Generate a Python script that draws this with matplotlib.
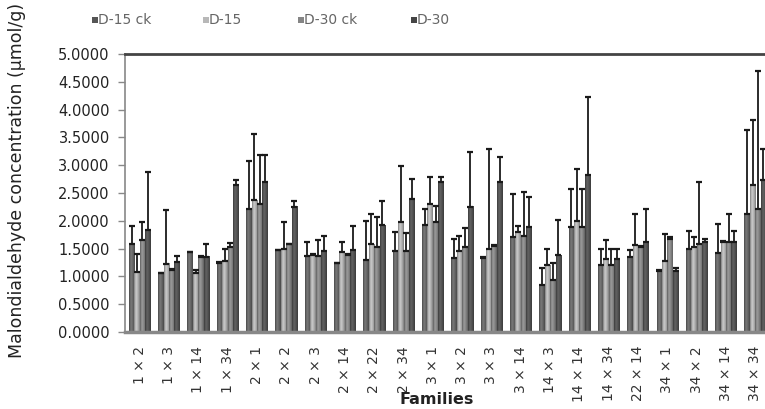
import matplotlib
matplotlib.use("Agg")
import matplotlib.pyplot as plt
import numpy as np
from matplotlib.patches import Rectangle
from matplotlib.colors import LinearSegmentedColormap, to_rgb

families = ['1×2', '1×3', '1×14', '1×34', '2×1', '2×2', '2×3', '2×14', '2×22', '2×34',
            '3×1', '3×2', '3×3', '3×14', '14×3', '14×14', '14×34', '22×14', '34×1',
            '34×2', '34×14', '34×34']
series_names = ['D-15 ck', 'D-15', 'D-30 ck', 'D-30']

d15ck = [1.58, 1.06, 1.43, 1.25, 2.22, 1.47, 1.36, 1.24, 1.30, 1.46, 1.92, 1.33,
         1.33, 1.71, 0.85, 1.88, 1.20, 1.35, 1.10, 1.49, 1.42, 2.13]
d15ck_top = [1.91, 1.07, 1.44, 1.26, 3.08, 1.48, 1.62, 1.25, 2.00, 1.79, 2.22, 1.68,
             1.34, 2.48, 1.16, 2.57, 1.50, 1.47, 1.11, 1.82, 1.94, 3.63]
d15 = [1.08, 1.23, 1.06, 1.28, 2.37, 1.50, 1.38, 1.44, 1.58, 1.98, 2.31, 1.45,
       1.50, 1.80, 1.20, 2.00, 1.32, 1.56, 1.27, 1.52, 1.62, 2.64]
d15_top = [1.41, 2.19, 1.12, 1.50, 3.57, 1.97, 1.41, 1.62, 2.12, 2.99, 2.78, 1.72,
           3.30, 1.91, 1.50, 2.93, 1.66, 2.13, 1.76, 1.71, 1.63, 3.81]
d30ck = [1.65, 1.12, 1.35, 1.53, 2.31, 1.58, 1.37, 1.38, 1.53, 1.45, 1.98, 1.52,
         1.55, 1.72, 0.93, 1.88, 1.20, 1.53, 1.68, 1.58, 1.62, 2.22]
d30ck_top = [1.98, 1.13, 1.36, 1.60, 3.18, 1.59, 1.65, 1.40, 2.06, 1.78, 2.27, 1.87,
             1.56, 2.51, 1.25, 2.57, 1.49, 1.54, 1.71, 2.69, 2.13, 4.70]
d30 = [1.83, 1.26, 1.35, 2.64, 2.70, 2.25, 1.46, 1.47, 1.92, 2.40, 2.70, 2.25,
       2.70, 1.89, 1.38, 2.82, 1.32, 1.62, 1.10, 1.61, 1.61, 2.73]
d30_top = [2.88, 1.37, 1.59, 2.74, 3.18, 2.36, 1.73, 1.91, 2.36, 2.76, 2.78, 3.23,
           3.15, 2.43, 2.01, 4.22, 1.49, 2.22, 1.15, 1.67, 1.82, 3.30]

yticks = [0.0, 0.5, 1.0, 1.5, 2.0, 2.5, 3.0, 3.5, 4.0, 4.5, 5.0]

values = [d15ck, d15, d30ck, d30]
tops = [d15ck_top, d15_top, d30ck_top, d30_top]
colors = ['#666666', '#b0b0b0', '#858585', '#525252']
legend_colors = ['#555555', '#b8b8b8', '#858585', '#454545']


def shade_cmap(c):
    r = np.array(to_rgb(c))
    dark = np.clip(r * 0.72, 0, 1)
    light = np.clip(r * 1.12 + 0.03, 0, 1)
    return LinearSegmentedColormap.from_list('s', [dark, light, r, dark])


W, H = 765, 409
fig = plt.figure(figsize=(W / 100, H / 100), dpi=100)
ax = fig.add_axes([125 / W, 1 - 332 / H, 645 / W, (332 - 54) / H])

x = np.arange(len(families))
bw = 0.185
grad = np.linspace(0, 1, 32).reshape(1, -1)
for k in range(4):
    pos = x + (k - 1.5) * bw
    v = np.array(values[k])
    t = np.array(tops[k])
    bars = ax.bar(pos, v, width=bw, color=colors[k], edgecolor='none', zorder=2)
    cm = shade_cmap(colors[k])
    for b in bars:
        x0 = b.get_x()
        ax.imshow(grad, extent=[x0, x0 + b.get_width(), 0, b.get_height()],
                  cmap=cm, aspect='auto', zorder=2.1, interpolation='bilinear')
    err = np.vstack([np.zeros_like(v), np.clip(t - v, 0, None)])
    ax.errorbar(pos, v, yerr=err, fmt='none', ecolor='#1a1a1a', elinewidth=1.3,
                capsize=2.4, capthick=1.6, zorder=3)

ax.set_xlim(-0.5, len(families) - 0.5)
ax.set_ylim(0, 5)
ax.set_aspect('auto')
ax.set_yticks(yticks)
ax.set_yticklabels(['%.4f' % v for v in yticks], fontsize=10.5, color='#222222')
ax.set_xticks(x)
ax.set_xticklabels([f.replace('×', ' × ') for f in families], rotation=90,
                   fontsize=10, color='#333333', va='top')
ax.tick_params(axis='x', length=0, pad=10)
ax.tick_params(axis='y', length=5, width=1, color='#888888', pad=6)

ax.spines['right'].set_visible(False)
ax.spines['top'].set_color('#444444')
ax.spines['top'].set_linewidth(2)
ax.spines['left'].set_color('#888888')
ax.spines['left'].set_linewidth(1.2)
ax.spines['bottom'].set_color('#888888')
ax.spines['bottom'].set_linewidth(2.5)

fig.text(437 / W, 1 - 400 / H, 'Families', fontsize=11.5, fontweight='bold',
         ha='center', va='center', color='#222222')
fig.text(17 / W, 1 - 180 / H, 'Malondialdehyde concentration (μmol/g)', fontsize=12.5,
         rotation=90, ha='center', va='center', color='#222222')

leg_sq_x = [92, 203, 298, 411]
for k in range(4):
    fig.patches.append(Rectangle((leg_sq_x[k] / W, 1 - 23 / H), 6 / W, 6 / H,
                                 transform=fig.transFigure, facecolor=legend_colors[k],
                                 edgecolor='none'))
    fig.text((leg_sq_x[k] + 6) / W, 1 - 20 / H, series_names[k], fontsize=10,
             color='#666666', ha='left', va='center')

fig.savefig('out.png', dpi=100)
